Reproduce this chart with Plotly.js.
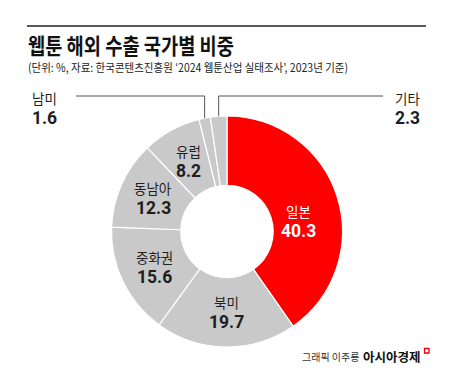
<!DOCTYPE html>
<html>
<head>
<meta charset="utf-8">
<script src="https://cdn.plot.ly/plotly-3.0.1.min.js"></script>
<style>
html,body{margin:0;padding:0;background:#fff;}
#chart{width:453px;height:378px;}
</style>
</head>
<body>
<div id="chart"></div>
<script>
// ---- data ----
const labels = ['일본', '북미', '중화권', '동남아', '유럽', '남미', '기타'];
const values = [40.3, 19.7, 15.6, 12.3, 8.2, 1.6, 2.3];
const titleText = '웹툰 해외 수출 국가별 비중';
const subtitleText = "(단위: %, 자료: 한국콘텐츠진흥원 ‘2024 웹툰산업 실태조사’, 2023년 기준)";
const creditText = '그래픽 이주룡';
const brandText = '아시아경제';

// ---- style / geometry ----
const W = 453, H = 378;
const CX = 227, CY = 231.5, R = 115.5, HOLE = 0.4;
const RED = '#ff0000', GRAY = '#c9c9c9', INK = '#1e1e1e';
const FONT = '"Noto Sans CJK KR", "Noto Sans", sans-serif';
const NUMFONT = 'Roboto, "Noto Sans", sans-serif';
const HIGHLIGHT_NUDGE = {x: -6, y: 14};   // px, label of the red slice sits a bit lower
const total = values.reduce((a, b) => a + b, 0);

function toPaper(px, py) { return [px / W, 1 - py / H]; }
function polar(frac, r) {
  const a = frac * 2 * Math.PI;
  return [CX + r * Math.sin(a), CY - r * Math.cos(a)];
}

const colors = labels.map((l, i) => i === 0 ? RED : GRAY);

const trace = {
  type: 'pie',
  labels: labels,
  values: values,
  sort: false,
  direction: 'clockwise',
  rotation: 0,
  hole: HOLE,
  textinfo: 'none',
  hoverinfo: 'skip',
  marker: {colors: colors, line: {color: '#ffffff', width: 1.2}},
  domain: {x: [(CX - R) / W, (CX + R) / W], y: [1 - (CY + R) / H, 1 - (CY - R) / H]},
  showlegend: false
};

const annotations = [];
const shapes = [];

// top rule
shapes.push({type: 'line', xref: 'paper', yref: 'paper',
  x0: 27 / W, x1: 426 / W, y0: 1 - 26 / H, y1: 1 - 26 / H,
  line: {color: '#222', width: 1.5}});

annotations.push({text: '<b>' + titleText + '</b>', xref: 'paper', yref: 'paper',
  x: 27 / W, y: 1 - 44.5 / H, xanchor: 'left', yanchor: 'middle', showarrow: false, borderpad: 0,
  font: {family: FONT, size: 22, color: '#111'}});
annotations.push({text: subtitleText, xref: 'paper', yref: 'paper',
  x: 27 / W, y: 1 - 66.5 / H, xanchor: 'left', yanchor: 'middle', showarrow: false, borderpad: 0,
  font: {family: FONT, size: 11.5, color: '#222'}});

// slice labels
function addLabel(i, v, x, y, color) {
  annotations.push({text: labels[i], xref: 'paper', yref: 'paper', x: x, y: y, yshift: 10,
    showarrow: false, xanchor: 'center', yanchor: 'middle', borderpad: 0,
    font: {family: FONT, size: 13.5, color: color}});
  annotations.push({text: '<b>' + v.toFixed(1) + '</b>', xref: 'paper', yref: 'paper', x: x, y: y, yshift: -10,
    showarrow: false, xanchor: 'center', yanchor: 'middle', borderpad: 0,
    font: {family: NUMFONT, size: 17.5, color: color}});
}
let cum = 0;
const LINE_Y = 96;
values.forEach((v, i) => {
  const mid = (cum + v / 2) / total;
  cum += v;
  const txtColor = i === 0 ? '#ffffff' : INK;
  if (v >= 5) {
    let [px, py] = polar(mid, R * (1 + HOLE) / 2);
    if (i === 0) { px += HIGHLIGHT_NUDGE.x; py += HIGHLIGHT_NUDGE.y; }
    const [x, y] = toPaper(px, py);
    addLabel(i, v, x, y, txtColor);
  } else {
    const [ex, ey] = polar(mid, R);
    const right = i === values.length - 1;
    const endX = right ? 383 : 76;
    const labX = right ? 407 : 44;
    shapes.push({type: 'line', xref: 'paper', yref: 'paper',
      x0: ex / W, x1: ex / W, y0: 1 - ey / H, y1: 1 - LINE_Y / H,
      line: {color: '#555', width: 1}});
    shapes.push({type: 'line', xref: 'paper', yref: 'paper',
      x0: ex / W, x1: endX / W, y0: 1 - LINE_Y / H, y1: 1 - LINE_Y / H,
      line: {color: '#555', width: 1}});
    addLabel(i, v, labX / W, 1 - 108 / H, INK);
  }
});

// footer
annotations.push({text: creditText, xref: 'paper', yref: 'paper', x: 300 / W, y: 1 - 356 / H,
  xanchor: 'left', yanchor: 'middle', showarrow: false,
  font: {family: FONT, size: 10, color: '#333'}});
annotations.push({text: '<b>' + brandText + '</b>', xref: 'paper', yref: 'paper', x: 361 / W, y: 1 - 356 / H,
  xanchor: 'left', yanchor: 'middle', showarrow: false,
  font: {family: FONT, size: 12.5, color: '#111'}});
shapes.push({type: 'rect', xref: 'paper', yref: 'paper',
  x0: 424.5 / W, x1: 429 / W, y0: 1 - 353 / H, y1: 1 - 348.5 / H,
  line: {color: '#e60012', width: 1.3}, fillcolor: 'rgba(0,0,0,0)'});

const layout = {
  width: W, height: H,
  margin: {l: 0, r: 0, t: 0, b: 0},
  paper_bgcolor: '#ffffff',
  plot_bgcolor: '#ffffff',
  showlegend: false,
  annotations: annotations,
  shapes: shapes
};

Plotly.newPlot('chart', [trace], layout, {displayModeBar: false, staticPlot: true}).then(() => {
  // condense title and subtitle horizontally to match the narrow typeface of the original
  const targets = {0: 206, 1: 320};
  const texts = document.querySelectorAll('.annotation .annotation-text');
  Object.keys(targets).forEach(k => {
    const el = texts[+k];
    if (!el) return;
    const bb = el.getBBox();
    el.setAttribute('text-anchor', 'start');
    el.setAttribute('x', bb.x);
    el.querySelectorAll('tspan').forEach(t => { if (t.hasAttribute('x')) t.setAttribute('x', bb.x); });
    el.setAttribute('textLength', targets[k]);
    el.setAttribute('lengthAdjust', 'spacingAndGlyphs');
  });
});
</script>
</body>
</html>
